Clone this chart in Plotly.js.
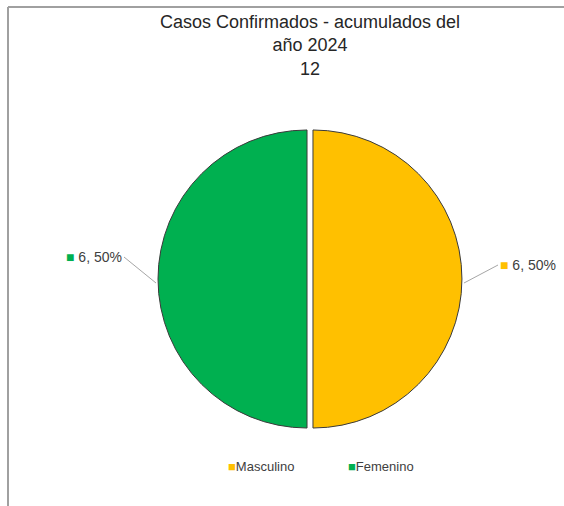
<!DOCTYPE html>
<html>
<head>
<meta charset="utf-8">
<script src="https://cdn.plot.ly/plotly-3.0.1.min.js"></script>
<style>html,body{margin:0;padding:0;background:#fff;}#chart{width:564px;height:506px;}</style>
</head>
<body>
<div id="chart"></div>
<script>
const categories = ["Masculino", "Femenino"];
const values = [6, 6];
const colors = ["#FFC000", "#00B050"];
const titleLines = ["Casos Confirmados - acumulados del", "año 2024", "12"];

const W = 564, H = 506;
const cx = 310, cy = 279, r = 152;
const total = values.reduce((a, b) => a + b, 0);
const font = "Liberation Sans, Arial, sans-serif";

const trace = {
  type: "pie",
  labels: categories,
  values: values,
  sort: false,
  direction: "clockwise",
  rotation: 0,
  pull: [0.02, 0.02],
  marker: {colors: colors, line: {color: "#3a3a3a", width: 1}},
  textinfo: "none",
  hoverinfo: "label+value+percent",
  showlegend: false,
  domain: {x: [(cx - r) / W, (cx + r) / W], y: [1 - (cy + r) / H, 1 - (cy - r) / H]}
};

// Data labels with leader lines
let cum = 0;
const annotations = values.map((v, i) => {
  const theta = 2 * Math.PI * (cum + v / 2) / total;
  cum += v;
  const px = cx + (r + 2) * Math.sin(theta);
  const py = cy - (r + 2) * Math.cos(theta) + 4;
  const right = Math.sin(theta) >= 0;
  const pct = Math.round(100 * v / total);
  return {
    x: px / W, y: 1 - py / H, xref: "paper", yref: "paper",
    text: '<span style="color:' + colors[i] + '">■</span> ' + v + ", " + pct + "%",
    showarrow: true, arrowhead: 0, arrowwidth: 1, arrowcolor: "#a6a6a6",
    ax: right ? 34 : -32, ay: right ? -18 : -26,
    xanchor: right ? "left" : "right", yanchor: "middle",
    font: {family: font, size: 14, color: "#404040"}
  };
});

// Legend entries drawn as text items below the pie
const legendX = [261, 381];
categories.forEach((c, i) => {
  annotations.push({
    x: legendX[i] / W, y: 1 - 466 / H, xref: "paper", yref: "paper",
    text: '<span style="color:' + colors[i] + '">■</span>' + c,
    showarrow: false, xanchor: "center", yanchor: "middle",
    font: {family: font, size: 13, color: "#404040"}
  });
});

const layout = {
  width: W, height: H,
  margin: {l: 0, r: 0, t: 0, b: 0},
  paper_bgcolor: "#ffffff",
  title: {
    text: titleLines.join("<br>"),
    x: cx / W, xanchor: "center", y: 1 - 28 / H, yanchor: "top",
    font: {family: font, size: 18, color: "#262626"}
  },
  showlegend: false,
  annotations: annotations,
  shapes: [
    {type: "line", xref: "paper", yref: "paper", x0: 8 / W, x1: 1, y0: 1 - 7 / H, y1: 1 - 7 / H, line: {color: "#a0a0a0", width: 2}},
    {type: "line", xref: "paper", yref: "paper", x0: 8 / W, x1: 8 / W, y0: 0, y1: 1 - 7 / H, line: {color: "#a0a0a0", width: 2}}
  ]
};

Plotly.newPlot("chart", [trace], layout, {displayModeBar: false, staticPlot: true});
</script>
</body>
</html>
